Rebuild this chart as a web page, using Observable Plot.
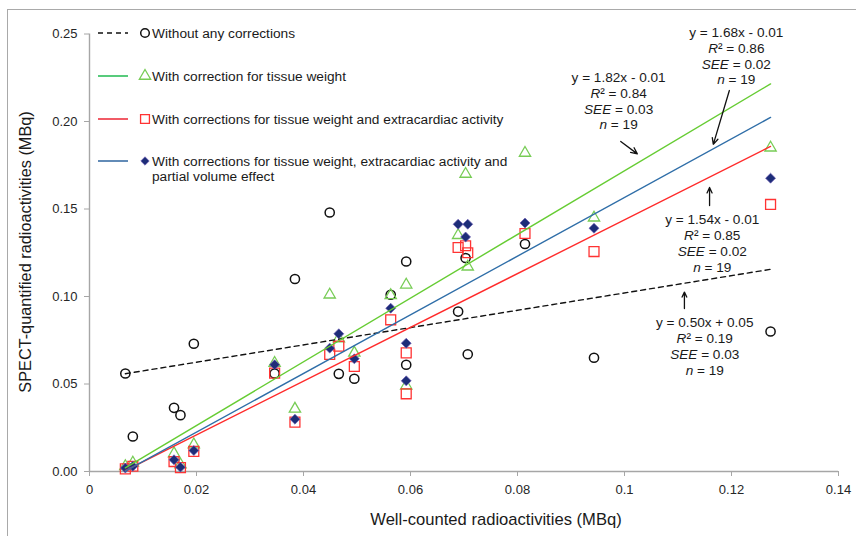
<!DOCTYPE html>
<html><head><meta charset="utf-8">
<script src="https://cdn.jsdelivr.net/npm/d3@7"></script>
<script src="https://cdn.jsdelivr.net/npm/@observablehq/plot@0.6"></script>
<style>
html,body{margin:0;padding:0;background:#fff;overflow:hidden;}
#wrap{position:relative;width:856px;height:536px;overflow:hidden;font-family:"Liberation Sans",Arial,sans-serif;}
#border{position:absolute;left:7px;top:9px;width:900px;height:600px;border:1.5px solid #a9a9a9;box-sizing:border-box;}
#wrap svg{position:absolute;left:0;top:0;}
</style></head><body><div id="wrap"><div id="border"></div></div>
<script>
// Well-counted radioactivities (MBq), x values of the 19 samples
const wellCounted = [0.0067,0.0081,0.0158,0.0170,0.0195,0.0346,0.0384,0.0449,0.0466,0.0495,0.0563,0.0592,0.0592,0.0689,0.0703,0.0707,0.0814,0.0943,0.1273];
// SPECT-quantified radioactivities (MBq)
const noCorrection   = [0.056,0.020,0.0364,0.0322,0.073,0.056,0.110,0.148,0.0558,0.053,0.101,0.120,0.061,0.0914,0.122,0.067,0.130,0.065,0.080];
const tissueWeight   = [0.003,0.005,0.0103,0.004,0.0154,0.062,0.0358,0.101,0.076,0.0678,0.1006,0.1067,0.049,0.135,0.170,0.117,0.182,0.145,0.185];
const tissueExtra    = [0.0015,0.003,0.0057,0.0022,0.0115,0.0562,0.0282,0.0669,0.0716,0.060,0.0867,0.0678,0.0444,0.128,0.129,0.125,0.136,0.1257,0.1526];
const tissueExtraPVE = [0.002,0.003,0.0067,0.0025,0.012,0.061,0.0299,0.0705,0.0787,0.0644,0.0933,0.0733,0.0518,0.1413,0.134,0.1413,0.142,0.139,0.1676];

const seriesLabels = [
  "Without any corrections",
  "With correction for tissue weight",
  "With corrections for tissue weight and extracardiac activity",
  "With corrections for tissue weight, extracardiac activity and\npartial volume effect"
];
const xTicks = [0,0.02,0.04,0.06,0.08,0.1,0.12,0.14];
const yTicks = [0,0.05,0.10,0.15,0.20,0.25];
const xLabel = "Well-counted radioactivities (MBq)";
const yLabel = "SPECT-quantified radioactivities (MBq)";

// regression annotations (text centre x, top y; arrow from -> to), in data units
const annotationText = [
  "y = 1.82x - 0.01\nR² = 0.84\nSEE = 0.03\nn = 19",
  "y = 1.68x - 0.01\nR² = 0.86\nSEE = 0.02\nn = 19",
  "y = 1.54x - 0.01\nR² = 0.85\nSEE = 0.02\nn = 19",
  "y = 0.50x + 0.05\nR² = 0.19\nSEE = 0.03\nn = 19"
];
const annotationX = [0.0989, 0.1209, 0.1164, 0.1150];
const annotationY = [0.2289, 0.2546, 0.1477, 0.0887];
const arrowX1 = [0.0993, 0.1196, 0.1159, 0.1112];
const arrowY1 = [0.1886, 0.2177, 0.1520, 0.0931];
const arrowX2 = [0.1024, 0.1166, 0.1159, 0.1112];
const arrowY2 = [0.1815, 0.1869, 0.1623, 0.1025];

const seriesValues = [noCorrection, tissueWeight, tissueExtra, tissueExtraPVE];
const series = seriesValues.map(vals => wellCounted.map((x, i) => ({x, y: vals[i]})));
const annotations = annotationText.map((t, i) => ({t, x: annotationX[i], y: annotationY[i]}));
const arrows = arrowX1.map((x1, i) => ({x1, y1: arrowY1[i], x2: arrowX2[i], y2: arrowY2[i]}));

const trendColors = ["#111", "#66cc33", "#ff2b2b", "#2f6ea8"];
const legendLineColors = ["#111", "#2fbf5c", "#ee3340", "#3b6ea5"];

const fmtX = d => String(+d.toFixed(2));
const fmtY = d3.format(".2f");

const svg = Plot.plot({
  width: 856, height: 536,
  marginLeft: 89, marginRight: 18, marginTop: 33.5, marginBottom: 65,
  x: {domain: [0, 0.14]},
  y: {domain: [0, 0.25]},
  style: {fontFamily: '"Liberation Sans", Arial, sans-serif', fontSize: "13px", color: "#262626", background: "transparent", overflow: "visible"},
  marks: [
    Plot.axisX({ticks: xTicks, tickFormat: fmtX, tickSize: 5, tickPadding: 8, stroke: "#a6a6a6", label: null}),
    Plot.axisY({ticks: yTicks, tickFormat: fmtY, tickSize: 5, tickPadding: 7, stroke: "#a6a6a6", label: null}),
    Plot.ruleY([0], {stroke: "#a6a6a6", strokeWidth: 1.4}),
    Plot.ruleX([0], {y1: 0, y2: 0.25, stroke: "#a6a6a6", strokeWidth: 1.4}),
    // markers
    Plot.dot(series[0], {x: "x", y: "y", symbol: "circle", r: 4.6, stroke: "#111", strokeWidth: 1.5, fill: "none"}),
    Plot.dot(series[1], {x: "x", y: "y", symbol: "triangle", r: 4.2, stroke: "#77cc55", strokeWidth: 1.3, fill: "none"}),
    Plot.dot(series[2], {x: "x", y: "y", symbol: "square", r: 5.6, stroke: "#ff3333", strokeWidth: 1.3, fill: "none"}),
    Plot.dot(series[3], {x: "x", y: "y", symbol: "diamond2", r: 4.5, fill: "#1d2d78", stroke: "#6f5fb5", strokeWidth: 0.7}),
    // trend lines
    Plot.linearRegressionY(series[0], {x: "x", y: "y", stroke: trendColors[0], strokeWidth: 1.4, strokeDasharray: "5,4", ci: 0}),
    Plot.linearRegressionY(series[1], {x: "x", y: "y", stroke: trendColors[1], strokeWidth: 1.4, ci: 0}),
    Plot.linearRegressionY(series[2], {x: "x", y: "y", stroke: trendColors[2], strokeWidth: 1.4, ci: 0}),
    Plot.linearRegressionY(series[3], {x: "x", y: "y", stroke: trendColors[3], strokeWidth: 1.4, ci: 0}),
    // annotations
    Plot.text(annotations, {x: "x", y: "y", text: "t", lineAnchor: "top", lineHeight: 1.16, textAnchor: "middle", fill: "#1a1a1a", fontSize: 13.6}),
    Plot.arrow(arrows, {x1: "x1", y1: "y1", x2: "x2", y2: "y2", stroke: "#111", strokeWidth: 1.3, headLength: 8, headAngle: 50})
  ]
});

const s = d3.select(svg);
// italic parts in regression annotations
s.selectAll("text, tspan").each(function() {
  if (this.children.length) return;
  const t = this.textContent;
  const m = t.match(/^(R|SEE|n)( ?²? ?=.*)$/);
  if (!m) return;
  this.textContent = "";
  d3.select(this).append("tspan").attr("font-style", "italic").text(m[1]);
  d3.select(this).append("tspan").text(m[2]);
});

// axis titles
s.append("text").attr("x", 496).attr("y", 519).attr("text-anchor", "middle").attr("dy", "0.35em")
  .attr("font-size", 16.6).attr("fill", "#1a1a1a").text(xLabel);
s.append("text").attr("transform", "translate(25,252) rotate(-90)").attr("text-anchor", "middle")
  .attr("dy", "0.35em").attr("font-size", 16.3).attr("fill", "#1a1a1a").text(yLabel);

// legend
const legendY = [33, 76, 119, 161];
const lg = s.append("g").attr("font-size", 13.7).attr("fill", "#1a1a1a").attr("text-anchor", "start");
const legendSymbols = [
  {type: d3.symbolCircle, size: Math.PI * 4.3 * 4.3, fill: "none", stroke: "#111", sw: 1.5},
  {type: d3.symbolTriangle, size: Math.PI * 4.2 * 4.2, fill: "none", stroke: "#77cc55", sw: 1.3},
  {type: d3.symbolSquare, size: Math.PI * 5.0 * 5.0, fill: "none", stroke: "#ff3333", sw: 1.3},
  {type: d3.symbolDiamond2, size: Math.PI * 3.8 * 3.8, fill: "#1d2d78", stroke: "#6f5fb5", sw: 0.7}
];
seriesLabels.forEach((lab, i) => {
  const y = legendY[i];
  lg.append("line").attr("x1", 98).attr("x2", 128).attr("y1", y).attr("y2", y)
    .attr("stroke", legendLineColors[i]).attr("stroke-width", 1.6)
    .attr("stroke-dasharray", i === 0 ? "5,4" : null);
  const sym = legendSymbols[i];
  lg.append("path").attr("transform", `translate(145,${y})`)
    .attr("d", d3.symbol(sym.type, sym.size)())
    .attr("fill", sym.fill).attr("stroke", sym.stroke).attr("stroke-width", sym.sw);
  lab.split("\n").forEach((line, j) => {
    lg.append("text").attr("x", 152).attr("y", y + j * 15.5).attr("dy", "0.35em")
      .attr("text-anchor", "start").text(line);
  });
});

document.getElementById("wrap").appendChild(svg);
</script>
</body></html>
